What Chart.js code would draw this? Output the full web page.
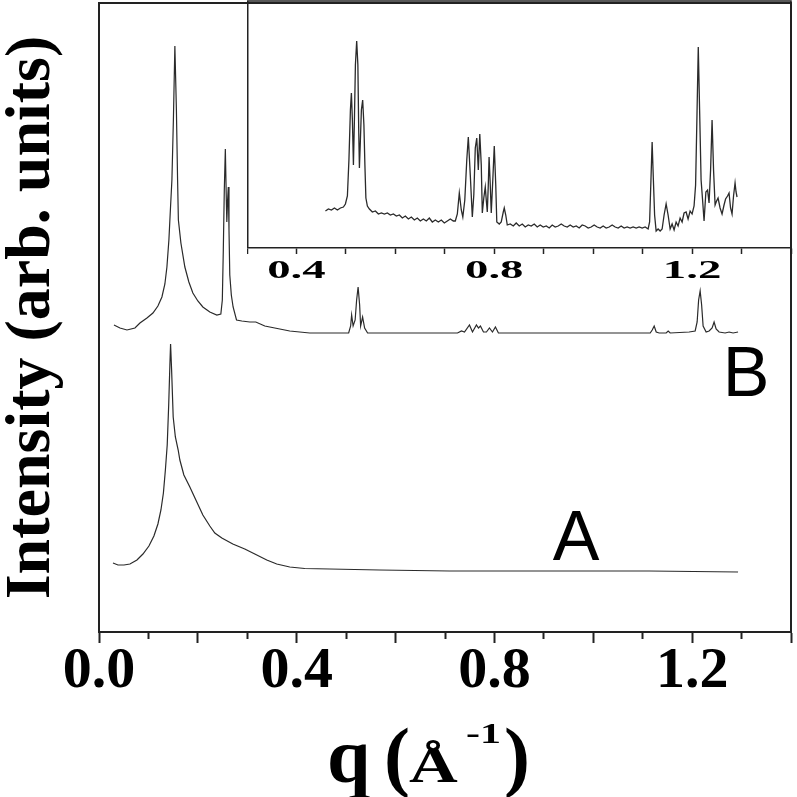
<!DOCTYPE html>
<html>
<head>
<meta charset="utf-8">
<script src="https://cdn.jsdelivr.net/npm/chart.js@4"></script>
<style>
    html, body { margin: 0; padding: 0; background: #fff; }
    #wrap { position: relative; width: 797px; height: 797px; }
    #mainChart { position: absolute; left: 0; top: 0; }
    #insetChart { position: absolute; left: 247px; top: 0; }
</style>
</head>
<body>
<div id="wrap">
    <canvas id="mainChart" width="797" height="797"></canvas>
    <canvas id="insetChart" width="550" height="300"></canvas>
</div>
<script>
// Krzywa A (dolna)
const qA = [0.0283, 0.0384, 0.0505, 0.0626, 0.0768, 0.0889, 0.1010, 0.1111, 0.1192, 0.1253, 0.1303, 0.1343, 0.1380, 0.1410,
    0.1434, 0.1448, 0.1469, 0.1501, 0.1545, 0.1602, 0.1636, 0.1717, 0.1838, 0.1960, 0.2101, 0.2242, 0.2343, 0.2485, 0.2707,
    0.2949, 0.3152, 0.3394, 0.3596, 0.3859, 0.4162, 0.4667, 0.5677, 0.7091, 0.9111, 1.1131, 1.2929];
const intensityA = [69, 67, 67, 68, 72, 78, 86, 96, 108, 122, 139, 162, 187, 227,
    267, 288, 262, 215, 195, 182, 172, 157, 145, 132, 117, 106, 99, 94, 88,
    83, 78, 72, 68, 65, 63.5, 63, 62, 61, 61, 61, 60];

// Krzywa B (gorna)
const qB = [0.0303, 0.0424, 0.0566, 0.0727, 0.0828, 0.0970, 0.1091, 0.1192, 0.1273, 0.1333, 0.1374, 0.1414, 0.1444, 0.1475,
    0.1505, 0.1535, 0.1566, 0.1590, 0.1606, 0.1657, 0.1737, 0.1818, 0.1899, 0.2000, 0.2101, 0.2242, 0.2384, 0.2465,
    0.2495, 0.2515, 0.2535, 0.2556, 0.2576, 0.2586, 0.2602, 0.2616, 0.2630, 0.2646, 0.2677, 0.2713, 0.2782, 0.2889,
    0.3051, 0.3172, 0.3354, 0.3556, 0.3859, 0.4263, 0.5051, 0.5091, 0.5111, 0.5141, 0.5182, 0.5212, 0.5242, 0.5273,
    0.5293, 0.5333, 0.5374, 0.5434, 0.6081, 0.7253, 0.7333, 0.7394, 0.7495, 0.7556, 0.7636, 0.7677, 0.7717, 0.7778,
    0.7838, 0.7899, 0.7960, 0.8020, 0.8081, 1.0121, 1.1152, 1.1192, 1.1232, 1.1273, 1.1333, 1.1475, 1.1515, 1.1556,
    1.1939, 1.2061, 1.2101, 1.2131, 1.2162, 1.2192, 1.2222, 1.2283, 1.2343, 1.2404, 1.2444, 1.2485, 1.2545, 1.2667,
    1.2747, 1.2828, 1.2929];
const intensityB = [307, 304, 302, 304, 309, 314, 319, 326, 335, 348, 365, 392, 422, 452,
    512, 586, 522, 452, 412, 389, 365, 350, 339, 331, 325, 320, 317, 318,
    332, 382, 442, 483, 432, 410, 432, 445, 402, 357, 337, 325, 312, 311,
    310, 310, 306, 304, 301, 299, 299, 306, 317, 306, 312, 332, 345, 327,
    306, 315, 304, 299, 299, 299, 301, 300, 307, 300, 307, 304, 306, 300,
    300, 304, 300, 305, 299, 299, 299, 302, 306, 300, 299, 299, 301, 299,
    300, 301, 310, 332, 341, 327, 306, 300, 301, 304, 310, 303, 300, 299,
    300, 299, 300];

// Wstawka: powiekszenie krzywej B
const qInset = [0.4586, 0.4646, 0.4707, 0.4768, 0.4828, 0.4889, 0.4949, 0.4990, 0.5030, 0.5061, 0.5091, 0.5111, 0.5131,
    0.5152, 0.5172, 0.5192, 0.5218, 0.5242, 0.5259, 0.5273, 0.5293, 0.5313, 0.5339, 0.5364, 0.5384, 0.5404, 0.5434,
    0.5475, 0.5535, 0.5596, 0.5657, 0.5717, 0.5778, 0.5838, 0.5899, 0.5960, 0.6020, 0.6081, 0.6141, 0.6202, 0.6263,
    0.6323, 0.6384, 0.6444, 0.6505, 0.6566, 0.6626, 0.6687, 0.6747, 0.6808, 0.6869, 0.6929, 0.6990, 0.7051, 0.7111,
    0.7172, 0.7212, 0.7253, 0.7293, 0.7333, 0.7364, 0.7404, 0.7444, 0.7475, 0.7515, 0.7556, 0.7586, 0.7616, 0.7646,
    0.7677, 0.7707, 0.7737, 0.7758, 0.7788, 0.7818, 0.7838, 0.7859, 0.7879, 0.7895, 0.7919, 0.7939, 0.7970, 0.8000,
    0.8030, 0.8051, 0.8101, 0.8141, 0.8182, 0.8202, 0.8232, 0.8263, 0.8323, 0.8384, 0.8444, 0.8505, 0.8566, 0.8626,
    0.8687, 0.8747, 0.8808, 0.8869, 0.8929, 0.8990, 0.9051, 0.9111, 0.9172, 0.9232, 0.9293, 0.9354, 0.9414, 0.9475,
    0.9535, 0.9596, 0.9657, 0.9717, 0.9778, 0.9838, 0.9899, 0.9960, 1.0020, 1.0081, 1.0141, 1.0202, 1.0263, 1.0323,
    1.0384, 1.0444, 1.0505, 1.0566, 1.0626, 1.0687, 1.0747, 1.0808, 1.0869, 1.0929, 1.0990, 1.1051, 1.1111, 1.1141,
    1.1168, 1.1192, 1.1216, 1.1242, 1.1273, 1.1313, 1.1354, 1.1394, 1.1434, 1.1475, 1.1515, 1.1556, 1.1596, 1.1636,
    1.1677, 1.1717, 1.1758, 1.1798, 1.1838, 1.1879, 1.1919, 1.1960, 1.2000, 1.2040, 1.2071, 1.2097, 1.2125, 1.2152,
    1.2182, 1.2212, 1.2242, 1.2279, 1.2313, 1.2343, 1.2374, 1.2404, 1.2434, 1.2465, 1.2495, 1.2525, 1.2566, 1.2606,
    1.2646, 1.2677, 1.2717, 1.2747, 1.2778, 1.2808, 1.2838, 1.2869, 1.2889, 1.2909];
const intensityInset = [37, 39, 38, 40, 38, 40, 41, 44, 52, 88, 138, 155, 128,
    83, 128, 183, 207, 183, 118, 80, 108, 138, 148, 123, 83, 50, 42,
    39, 36, 37, 34, 35, 34, 35, 33, 34, 32, 33, 30, 32, 29,
    31, 28, 30, 27, 29, 27, 30, 26, 28, 26, 28, 25, 27, 29,
    27, 27, 34, 55, 38, 31, 48, 88, 111, 73, 31, 53, 100, 110,
    78, 114, 83, 35, 50, 61, 48, 36, 63, 91, 63, 35, 68, 102,
    63, 26, 24, 26, 36, 40, 33, 23, 24, 22, 25, 22, 24, 21,
    23, 22, 24, 21, 23, 21, 22, 20, 23, 21, 22, 24, 22, 21,
    23, 21, 22, 20, 23, 22, 20, 21, 23, 21, 20, 22, 20, 21,
    23, 21, 20, 22, 20, 21, 20, 21, 20, 21, 20, 21, 19, 26,
    68, 106, 70, 33, 17, 19, 17, 19, 33, 44, 33, 19, 24, 18,
    26, 22, 30, 26, 35, 36, 29, 37, 34, 42, 63, 128, 201, 138,
    68, 48, 27, 56, 58, 45, 78, 128, 78, 43, 47, 50, 40, 34,
    43, 49, 52, 55, 40, 34, 52, 65, 56, 51];

// Etykiety osi i krzywych
const xTicksMain = ['0.0', '0.4', '0.8', '1.2'];
const xTicksInset = ['0.4', '0.8', '1.2'];
const curveNames = ['A', 'B'];
const curveNameQ = [0.918, 1.262];
const curveNameI = [72, 236];

function toPoints(xs, ys) {
    return xs.map((x, i) => ({ x: x, y: ys[i] }));
}

// Ramka (gora i prawa strona)
const framePlugin = {
    id: 'frame',
    afterDraw(chart) {
        const { ctx, chartArea } = chart;
        ctx.save();
        ctx.strokeStyle = '#222';
        ctx.lineWidth = 2;
        ctx.beginPath();
        ctx.moveTo(chartArea.left, chartArea.top);
        ctx.lineTo(chartArea.right, chartArea.top);
        ctx.lineTo(chartArea.right, chartArea.bottom);
        ctx.stroke();
        ctx.restore();
    }
};

// Litery A i B przy krzywych
const curveNamePlugin = {
    id: 'curveNames',
    afterDatasetsDraw(chart) {
        const { ctx, scales } = chart;
        ctx.save();
        ctx.fillStyle = '#000';
        ctx.font = '70px "Liberation Sans"';
        ctx.textAlign = 'left';
        ctx.textBaseline = 'alphabetic';
        curveNames.forEach((name, i) => {
            ctx.fillText(name, scales.x.getPixelForValue(curveNameQ[i]), scales.y.getPixelForValue(curveNameI[i]));
        });
        ctx.restore();
    }
};

function drawStretched(ctx, text, x, y, font, sx) {
    ctx.save();
    ctx.font = font;
    ctx.translate(x, y);
    ctx.scale(sx, 1);
    ctx.fillText(text, 0, 0);
    ctx.restore();
}

// Tytul osi X: q (Å^-1)
const xTitlePlugin = {
    id: 'xTitle',
    afterDraw(chart) {
        const { ctx } = chart;
        ctx.save();
        ctx.fillStyle = '#000';
        ctx.textAlign = 'left';
        ctx.textBaseline = 'alphabetic';
        drawStretched(ctx, 'q', 327, 782, 'bold 78px "Liberation Serif"', 1);
        drawStretched(ctx, '(', 384, 782, 'bold 78px "Liberation Serif"', 1);
        drawStretched(ctx, 'Å', 409, 782, 'bold 50px "Liberation Serif"', 1.35);
        drawStretched(ctx, '-1', 466, 743, 'bold 30px "Liberation Serif"', 1.4);
        drawStretched(ctx, ')', 504, 782, 'bold 78px "Liberation Serif"', 1);
        ctx.restore();
    }
};

function renderMainChart() {
    const ctx = document.getElementById('mainChart').getContext('2d');
    new Chart(ctx, {
        type: 'line',
        data: {
            datasets: [
                {
                    label: 'A',
                    data: toPoints(qA, intensityA),
                    borderColor: '#2a2a2a',
                    borderWidth: 1.2,
                    pointRadius: 0,
                    tension: 0,
                    fill: false
                },
                {
                    label: 'B',
                    data: toPoints(qB, intensityB),
                    borderColor: '#2a2a2a',
                    borderWidth: 1.2,
                    pointRadius: 0,
                    tension: 0,
                    fill: false
                }
            ]
        },
        options: {
            responsive: false,
            animation: false,
            layout: { padding: { top: 3, right: 6, left: 0, bottom: 0 } },
            plugins: {
                legend: { display: false },
                tooltip: { enabled: false }
            },
            scales: {
                x: {
                    type: 'linear',
                    min: 0,
                    max: 1.4,
                    afterFit(scale) { scale.height = 165; },
                    border: { display: true, color: '#222', width: 2 },
                    grid: {
                        drawOnChartArea: false,
                        drawTicks: true,
                        tickLength: 11,
                        tickWidth: 2,
                        tickColor: '#222',
                        tickBorderDash: (c) => (c.tick && Math.round(c.tick.value * 10) % 2 !== 0) ? [6, 40] : []
                    },
                    ticks: {
                        stepSize: 0.1,
                        autoSkip: false,
                        maxRotation: 0,
                        padding: -6,
                        color: '#000',
                        font: { family: 'Liberation Serif', size: 58, weight: 'bold' },
                        callback: (value) => {
                            const label = value.toFixed(1);
                            return xTicksMain.includes(label) ? label : '';
                        }
                    }
                },
                y: {
                    type: 'linear',
                    min: 0,
                    max: 629,
                    afterFit(scale) { scale.width = 99; },
                    border: { display: true, color: '#222', width: 2 },
                    grid: { display: false },
                    ticks: { display: false },
                    title: {
                        display: true,
                        text: 'Intensity (arb. units)',
                        color: '#000',
                        padding: 0,
                        font: { family: 'Liberation Serif', size: 64, weight: 'bold', lineHeight: 1 }
                    }
                }
            }
        },
        plugins: [framePlugin, curveNamePlugin, xTitlePlugin]
    });
}

// Ramka wstawki i rozciagniete etykiety osi
const insetPlugin = {
    id: 'insetFrame',
    afterDraw(chart) {
        const { ctx, chartArea, scales } = chart;
        ctx.save();
        ctx.strokeStyle = '#222';
        ctx.lineWidth = 1.5;
        ctx.beginPath();
        ctx.moveTo(chartArea.left + 0.75, chartArea.bottom);
        ctx.lineTo(chartArea.left + 0.75, chartArea.top);
        ctx.lineTo(chartArea.right, chartArea.top);
        ctx.lineTo(chartArea.right, chartArea.bottom);
        ctx.stroke();
        ctx.fillStyle = '#000';
        ctx.textAlign = 'center';
        ctx.textBaseline = 'middle';
        xTicksInset.forEach(label => {
            const x = scales.x.getPixelForValue(parseFloat(label));
            drawStretched(ctx, label, x, chartArea.bottom + 23, 'bold 26px "Liberation Serif"', 1.8);
        });
        ctx.restore();
    }
};

function renderInsetChart() {
    const ctx = document.getElementById('insetChart').getContext('2d');
    new Chart(ctx, {
        type: 'line',
        data: {
            datasets: [{
                label: 'B (inset)',
                data: toPoints(qInset, intensityInset),
                borderColor: '#2a2a2a',
                borderWidth: 1.3,
                pointRadius: 0,
                tension: 0,
                fill: false
            }]
        },
        options: {
            responsive: false,
            animation: false,
            layout: { padding: { top: 1, right: 6, left: 0, bottom: 0 } },
            plugins: {
                legend: { display: false },
                tooltip: { enabled: false }
            },
            scales: {
                x: {
                    type: 'linear',
                    min: 0.3,
                    max: 1.4,
                    afterFit(scale) { scale.height = 52; },
                    border: { display: true, color: '#222', width: 1.5 },
                    grid: {
                        drawOnChartArea: false,
                        drawTicks: true,
                        tickLength: 6,
                        tickWidth: 1.5,
                        tickColor: '#222'
                    },
                    ticks: { stepSize: 0.1, autoSkip: false, display: false }
                },
                y: {
                    type: 'linear',
                    min: 0,
                    max: 247,
                    display: false
                }
            }
        },
        plugins: [insetPlugin]
    });
}

// Inicjalizacja obu wykresow
function initializeCharts() {
    renderMainChart();
    renderInsetChart();
}

initializeCharts();
</script>
</body>
</html>
